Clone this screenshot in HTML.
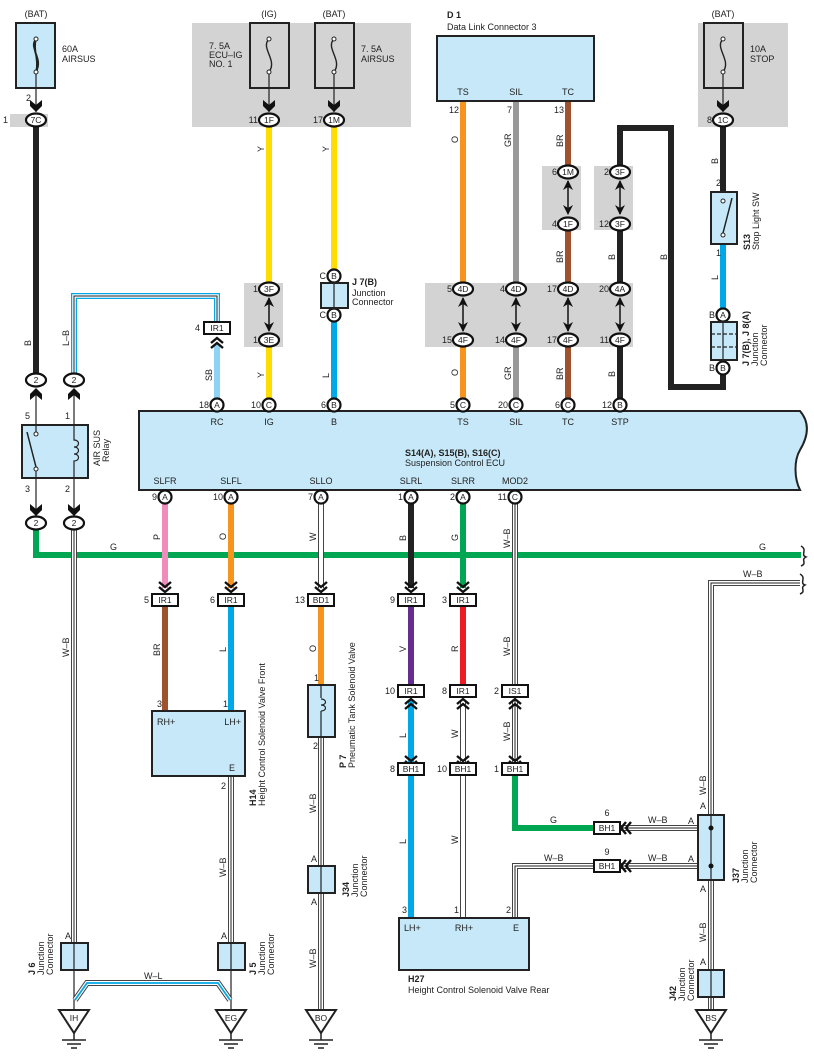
<!DOCTYPE html>
<html><head><meta charset="utf-8"><style>
html,body{margin:0;padding:0;background:#fff;}
svg{display:block}
.t{font-family:"Liberation Sans",sans-serif;font-size:9px;fill:#222}
.s{font-size:8.5px}
.c{text-anchor:middle}
.r{text-anchor:end}
.b{font-weight:bold}
</style></head><body>
<svg width="814" height="1063" viewBox="0 0 814 1063" xmlns="http://www.w3.org/2000/svg">
<defs>
<g id="cd"><polyline points="-6,-8 0,-3 6,-8" fill="none" stroke="#111" stroke-width="2.4"/><polyline points="-6,-3 0,2 6,-3" fill="none" stroke="#111" stroke-width="2.4"/></g>
<g id="cu"><polyline points="-6,8 0,3 6,8" fill="none" stroke="#111" stroke-width="2.4"/><polyline points="-6,3 0,-2 6,3" fill="none" stroke="#111" stroke-width="2.4"/></g>
<g id="cl"><polyline points="8,-6 3,0 8,6" fill="none" stroke="#111" stroke-width="2.4"/><polyline points="3,-6 -2,0 3,6" fill="none" stroke="#111" stroke-width="2.4"/></g>
<path id="fa" d="M-6,-8 L0,-3 L6,-8 L6,-2 L0,4 L-6,-2 Z" fill="#111"/>
<path id="fu" d="M-6,8 L0,3 L6,8 L6,2 L0,-4 L-6,2 Z" fill="#111"/>
<g id="da"><line x1="0" y1="2" x2="0" y2="35" stroke="#111" stroke-width="1.5"/><path d="M-5,11 L0,1 L5,11 L0,8Z" fill="#111"/><path d="M-5,26 L0,36 L5,26 L0,29Z" fill="#111"/></g>
</defs>

<!-- grey backgrounds -->
<rect x="10" y="114" width="38" height="13" fill="#d3d3d3"/>
<rect x="192" y="23" width="219" height="104" fill="#d3d3d3"/>
<rect x="698" y="23" width="90" height="104" fill="#d3d3d3"/>
<rect x="244" y="283" width="39" height="64" fill="#d3d3d3"/>
<rect x="425" y="283" width="208" height="64" fill="#d3d3d3"/>
<rect x="542" y="166" width="39" height="64" fill="#d3d3d3"/>
<rect x="594" y="166" width="39" height="64" fill="#d3d3d3"/>

<!-- fuses -->
<g fill="#c6e8f8" stroke="#222" stroke-width="2">
<rect x="16" y="23" width="39" height="65"/>
</g>
<g fill="#d3d3d3" stroke="#222" stroke-width="2">
<rect x="250" y="23" width="39" height="65"/>
<rect x="315" y="23" width="39" height="65"/>
<rect x="704" y="23" width="39" height="65"/>
</g>
<g fill="none" stroke="#222" stroke-width="1.4">
<path d="M36,39 C28,48 44,58 36,72 M36,39 C30,50 42,60 36,72 M36,39 C33,50 39,60 36,72" stroke-width="1.6"/>
<path d="M269,39 C260,48 278,60 269,72"/>
<path d="M334,39 C325,48 343,60 334,72"/>
<path d="M723,39 C714,48 732,60 723,72"/>
</g>
<g fill="#fff" stroke="#222" stroke-width="1">
<circle cx="36" cy="39" r="2"/><circle cx="36" cy="72" r="2"/>
<circle cx="269" cy="39" r="2"/><circle cx="269" cy="72" r="2"/>
<circle cx="334" cy="39" r="2"/><circle cx="334" cy="72" r="2"/>
<circle cx="723" cy="39" r="2"/><circle cx="723" cy="72" r="2"/>
</g>
<g stroke="#222" stroke-width="1.2">
<line x1="36" y1="74" x2="36" y2="112"/><line x1="269" y1="74" x2="269" y2="112"/>
<line x1="334" y1="74" x2="334" y2="112"/><line x1="723" y1="74" x2="723" y2="112"/>
</g>
<use href="#fa" x="36" y="108"/><use href="#fa" x="269" y="108"/><use href="#fa" x="334" y="108"/><use href="#fa" x="723" y="108"/>

<text class="t c" x="36" y="17">(BAT)</text>
<text class="t" x="62" y="52">60A</text><text class="t" x="62" y="62">AIRSUS</text>
<text class="t c" x="269" y="17">(IG)</text>
<text class="t c" x="334" y="17">(BAT)</text>
<text class="t" x="209" y="49">7. 5A</text><text class="t" x="209" y="58">ECU–IG</text><text class="t" x="209" y="67">NO. 1</text>
<text class="t" x="361" y="52">7. 5A</text><text class="t" x="361" y="62">AIRSUS</text>
<text class="t c" x="723" y="17">(BAT)</text>
<text class="t" x="750" y="52">10A</text><text class="t" x="750" y="62">STOP</text>
<text class="t" x="26" y="101">2</text>

<!-- Data link -->
<text class="t b" x="447" y="18">D 1</text>
<text class="t" x="447" y="30">Data Link Connector 3</text>
<rect x="437" y="36" width="157" height="65" fill="#c6e8f8" stroke="#222" stroke-width="2"/>
<text class="t c" x="463" y="95">TS</text><text class="t c" x="516" y="95">SIL</text><text class="t c" x="568" y="95">TC</text>
<text class="t r" x="459" y="113">12</text><text class="t r" x="512" y="113">7</text><text class="t r" x="564" y="113">13</text>

<!-- ECU -->
<path d="M139,411 L800,411 C812,425 806,440 800,450 C794,460 794,478 800,490 L139,490 Z" fill="#c6e8f8" stroke="#222" stroke-width="2"/>
<text class="t b" x="405" y="456">S14(A), S15(B), S16(C)</text>
<text class="t" x="405" y="466">Suspension Control ECU</text>
<text class="t c" x="217" y="425">RC</text><text class="t c" x="269" y="425">IG</text><text class="t c" x="334" y="425">B</text>
<text class="t c" x="463" y="425">TS</text><text class="t c" x="516" y="425">SIL</text><text class="t c" x="568" y="425">TC</text><text class="t c" x="620" y="425">STP</text>
<text class="t c" x="165" y="484">SLFR</text><text class="t c" x="231" y="484">SLFL</text><text class="t c" x="321" y="484">SLLO</text>
<text class="t c" x="411" y="484">SLRL</text><text class="t c" x="463" y="484">SLRR</text><text class="t c" x="515" y="484">MOD2</text>

<!-- Relay -->
<rect x="22" y="425" width="66" height="53" fill="#c6e8f8" stroke="#222" stroke-width="2"/>
<line x1="36" y1="392" x2="36" y2="434" stroke="#222" stroke-width="1.2"/>
<line x1="36" y1="469" x2="36" y2="515" stroke="#222" stroke-width="1.2"/>
<circle cx="36" cy="434" r="2" fill="#fff" stroke="#222"/><circle cx="36" cy="469" r="2" fill="#fff" stroke="#222"/>
<line x1="27" y1="432" x2="36" y2="467" stroke="#222" stroke-width="1.5"/>
<path d="M74,392 L74,440 C80,440 80,447 74,447 C80,447 80,454 74,454 C80,454 80,461 74,461 L74,515" fill="none" stroke="#222" stroke-width="1.2"/>
<text class="t" x="25" y="419">5</text><text class="t" x="65" y="419">1</text><text class="t" x="25" y="492">3</text><text class="t" x="65" y="492">2</text>
<text class="t" transform="translate(100,466) rotate(-90)">AIR SUS</text>
<text class="t" transform="translate(109,462) rotate(-90)">Relay</text>
<use href="#fa" x="36" y="512"/><use href="#fa" x="74" y="512"/>

<!-- Green G bus (under) -->
<path d="M36,530 L36,555 L801,555" fill="none" stroke="#00a651" stroke-width="6"/>
<path d="M801,546 C808,550 800,555 806,557 C800,560 808,563 801,566" fill="none" stroke="#222" stroke-width="1.5"/>
<text class="t" x="110" y="550">G</text><text class="t" x="759" y="550">G</text>

<!-- colored wires -->
<g fill="none" stroke-linejoin="miter">
<line x1="36" y1="127" x2="36" y2="373" stroke="#222" stroke-width="6"/>
<path d="M74,373 L74,296 L217,296 L217,322" stroke="#00a8e8" stroke-width="6"/>
<path d="M74,373 L74,296 L217,296 L217,322" stroke="#fff" stroke-width="3.5"/>
<path d="M74,373 L74,296 L217,296 L217,322" stroke="#222" stroke-width="1"/>
<line x1="217" y1="345" x2="217" y2="398" stroke="#8fd3f4" stroke-width="6"/>
<line x1="269" y1="127" x2="269" y2="283" stroke="#ffdd00" stroke-width="6"/>
<line x1="269" y1="347" x2="269" y2="398" stroke="#ffdd00" stroke-width="6"/>
<line x1="334" y1="127" x2="334" y2="270" stroke="#ffdd00" stroke-width="6"/>
<line x1="334" y1="322" x2="334" y2="398" stroke="#00a8e8" stroke-width="6"/>
<line x1="463" y1="102" x2="463" y2="283" stroke="#f7941d" stroke-width="6"/>
<line x1="463" y1="347" x2="463" y2="398" stroke="#f7941d" stroke-width="6"/>
<line x1="516" y1="102" x2="516" y2="283" stroke="#999" stroke-width="6"/>
<line x1="516" y1="347" x2="516" y2="398" stroke="#999" stroke-width="6"/>
<line x1="568" y1="102" x2="568" y2="166" stroke="#a0522d" stroke-width="6"/>
<line x1="568" y1="230" x2="568" y2="283" stroke="#a0522d" stroke-width="6"/>
<line x1="568" y1="347" x2="568" y2="398" stroke="#a0522d" stroke-width="6"/>
<path d="M620,166 L620,128 L671,128 L671,387 L723,387 L723,375" stroke="#222" stroke-width="6"/>
<line x1="620" y1="230" x2="620" y2="283" stroke="#222" stroke-width="6"/>
<line x1="620" y1="347" x2="620" y2="398" stroke="#222" stroke-width="6"/>
<line x1="723" y1="127" x2="723" y2="192" stroke="#222" stroke-width="6"/>
<line x1="723" y1="244" x2="723" y2="308" stroke="#00a8e8" stroke-width="6"/>
<!-- lower -->
<line x1="165" y1="504" x2="165" y2="588" stroke="#f08cbb" stroke-width="6"/>
<line x1="231" y1="504" x2="231" y2="588" stroke="#f7941d" stroke-width="6"/>
<line x1="411" y1="504" x2="411" y2="588" stroke="#222" stroke-width="6"/>
<line x1="463" y1="504" x2="463" y2="588" stroke="#00a651" stroke-width="6"/>
<line x1="165" y1="607" x2="165" y2="711" stroke="#a0522d" stroke-width="6"/>
<line x1="231" y1="607" x2="231" y2="711" stroke="#00a8e8" stroke-width="6"/>
<line x1="321" y1="607" x2="321" y2="685" stroke="#f7941d" stroke-width="6"/>
<line x1="411" y1="607" x2="411" y2="685" stroke="#662d91" stroke-width="6"/>
<line x1="463" y1="607" x2="463" y2="685" stroke="#ed1c24" stroke-width="6"/>
<line x1="411" y1="700" x2="411" y2="762" stroke="#00a8e8" stroke-width="6"/>
<line x1="411" y1="776" x2="411" y2="918" stroke="#00a8e8" stroke-width="6"/>
<path d="M515,776 L515,828 L594,828" stroke="#00a651" stroke-width="6"/>
</g>
<!-- white / W-B wires -->
<g fill="none">
<g stroke="#444" stroke-width="6">
<path d="M74,530 L74,943"/><path d="M321,504 L321,588"/><path d="M515,504 L515,685"/>
<path d="M463,700 L463,762"/><path d="M515,700 L515,762"/><path d="M463,776 L463,918"/>
<path d="M231,776 L231,943"/><path d="M321,737 L321,1010"/>
<path d="M800,583 L711,583 L711,1010"/><path d="M621,828 L698,828"/><path d="M621,866 L698,866"/>
<path d="M515,918 L515,866 L594,866"/>
</g>
<g stroke="#fff" stroke-width="4">
<path d="M74,530 L74,943"/><path d="M321,504 L321,588"/><path d="M515,504 L515,685"/>
<path d="M463,700 L463,762"/><path d="M515,700 L515,762"/><path d="M463,776 L463,918"/>
<path d="M231,776 L231,943"/><path d="M321,737 L321,1010"/>
<path d="M800,583 L711,583 L711,1010"/><path d="M621,828 L698,828"/><path d="M621,866 L698,866"/>
<path d="M515,918 L515,866 L594,866"/>
</g>
<g stroke="#222" stroke-width="1">
<path d="M74,530 L74,943"/><path d="M515,504 L515,685"/>
<path d="M515,700 L515,762"/>
<path d="M231,776 L231,943"/><path d="M321,737 L321,1010"/>
<path d="M800,583 L711,583 L711,1010"/><path d="M621,828 L698,828"/><path d="M621,866 L698,866"/>
<path d="M515,918 L515,866 L594,866"/>
</g>
<path d="M800,574 C807,578 799,583 805,585 C799,588 807,591 800,594" stroke="#222" stroke-width="1.5"/>
<line x1="74" y1="970" x2="74" y2="1012" stroke="#222" stroke-width="1.2"/>
<line x1="231" y1="970" x2="231" y2="1012" stroke="#222" stroke-width="1.2"/>
<path d="M75,1000 L87,983 L218,983 L230,1000" stroke="#444" stroke-width="6"/>
<path d="M75,1000 L87,983 L218,983 L230,1000" stroke="#fff" stroke-width="4"/>
<path d="M75,1000 L87,983 L218,983 L230,1000" stroke="#00a8e8" stroke-width="1.8"/>
</g>

<!-- wire labels -->
<g class="t">
<text transform="translate(31,346) rotate(-90)" class="t">B</text>
<text transform="translate(69,346) rotate(-90)" class="t">L–B</text>
<text transform="translate(212,381) rotate(-90)" class="t">SB</text>
<text transform="translate(264,152) rotate(-90)" class="t">Y</text>
<text transform="translate(264,378) rotate(-90)" class="t">Y</text>
<text transform="translate(329,152) rotate(-90)" class="t">Y</text>
<text transform="translate(329,378) rotate(-90)" class="t">L</text>
<text transform="translate(458,143) rotate(-90)" class="t">O</text>
<text transform="translate(458,376) rotate(-90)" class="t">O</text>
<text transform="translate(511,147) rotate(-90)" class="t">GR</text>
<text transform="translate(511,380) rotate(-90)" class="t">GR</text>
<text transform="translate(563,147) rotate(-90)" class="t">BR</text>
<text transform="translate(563,263) rotate(-90)" class="t">BR</text>
<text transform="translate(563,380) rotate(-90)" class="t">BR</text>
<text transform="translate(615,260) rotate(-90)" class="t">B</text>
<text transform="translate(615,377) rotate(-90)" class="t">B</text>
<text transform="translate(667,260) rotate(-90)" class="t">B</text>
<text transform="translate(718,164) rotate(-90)" class="t">B</text>
<text transform="translate(718,280) rotate(-90)" class="t">L</text>
<text transform="translate(69,657) rotate(-90)" class="t">W–B</text>
<text transform="translate(160,540) rotate(-90)" class="t">P</text>
<text transform="translate(226,540) rotate(-90)" class="t">O</text>
<text transform="translate(316,541) rotate(-90)" class="t">W</text>
<text transform="translate(406,541) rotate(-90)" class="t">B</text>
<text transform="translate(458,541) rotate(-90)" class="t">G</text>
<text transform="translate(510,548) rotate(-90)" class="t">W–B</text>
<text transform="translate(160,656) rotate(-90)" class="t">BR</text>
<text transform="translate(226,652) rotate(-90)" class="t">L</text>
<text transform="translate(316,652) rotate(-90)" class="t">O</text>
<text transform="translate(406,652) rotate(-90)" class="t">V</text>
<text transform="translate(458,652) rotate(-90)" class="t">R</text>
<text transform="translate(510,656) rotate(-90)" class="t">W–B</text>
<text transform="translate(406,738) rotate(-90)" class="t">L</text>
<text transform="translate(458,738) rotate(-90)" class="t">W</text>
<text transform="translate(510,741) rotate(-90)" class="t">W–B</text>
<text transform="translate(406,844) rotate(-90)" class="t">L</text>
<text transform="translate(458,844) rotate(-90)" class="t">W</text>
<text transform="translate(226,877) rotate(-90)" class="t">W–B</text>
<text transform="translate(316,813) rotate(-90)" class="t">W–B</text>
<text transform="translate(316,968) rotate(-90)" class="t">W–B</text>
<text transform="translate(706,795) rotate(-90)" class="t">W–B</text>
<text transform="translate(706,942) rotate(-90)" class="t">W–B</text>
<text x="743" y="577">W–B</text>
<text x="550" y="823">G</text>
<text x="648" y="823">W–B</text>
<text x="648" y="861">W–B</text>
<text x="544" y="861">W–B</text>
<text x="144" y="979">W–L</text>
</g>

<!-- double arrows -->
<use href="#da" x="269" y="296"/><use href="#da" x="463" y="296"/><use href="#da" x="516" y="296"/>
<use href="#da" x="568" y="296"/><use href="#da" x="620" y="296"/>
<use href="#da" x="568" y="179"/><use href="#da" x="620" y="179"/>
<use href="#fu" x="36" y="392"/><use href="#fu" x="74" y="392"/>

<!-- ovals -->
<g fill="#fff" stroke="#111" stroke-width="2.2">
<ellipse cx="36" cy="120" rx="10" ry="6.5"/>
<ellipse cx="269" cy="120" rx="10" ry="6.5"/><ellipse cx="334" cy="120" rx="10" ry="6.5"/>
<ellipse cx="723" cy="120" rx="10" ry="6.5"/>
<ellipse cx="269" cy="289" rx="10" ry="6.5"/><ellipse cx="269" cy="340" rx="10" ry="6.5"/>
<ellipse cx="463" cy="289" rx="10" ry="6.5"/><ellipse cx="463" cy="340" rx="10" ry="6.5"/>
<ellipse cx="516" cy="289" rx="10" ry="6.5"/><ellipse cx="516" cy="340" rx="10" ry="6.5"/>
<ellipse cx="568" cy="289" rx="10" ry="6.5"/><ellipse cx="568" cy="340" rx="10" ry="6.5"/>
<ellipse cx="620" cy="289" rx="10" ry="6.5"/><ellipse cx="620" cy="340" rx="10" ry="6.5"/>
<ellipse cx="568" cy="172" rx="10" ry="6.5"/><ellipse cx="568" cy="224" rx="10" ry="6.5"/>
<ellipse cx="620" cy="172" rx="10" ry="6.5"/><ellipse cx="620" cy="224" rx="10" ry="6.5"/>
<ellipse cx="36" cy="380" rx="10" ry="6.5"/><ellipse cx="74" cy="380" rx="10" ry="6.5"/>
<ellipse cx="36" cy="523" rx="10" ry="6.5"/><ellipse cx="74" cy="523" rx="10" ry="6.5"/>
<circle cx="217" cy="405" r="6.5"/><circle cx="269" cy="405" r="6.5"/><circle cx="334" cy="405" r="6.5"/>
<circle cx="463" cy="405" r="6.5"/><circle cx="516" cy="405" r="6.5"/><circle cx="568" cy="405" r="6.5"/><circle cx="620" cy="405" r="6.5"/>
<circle cx="334" cy="276" r="6.5"/><circle cx="334" cy="315" r="6.5"/>
<circle cx="723" cy="315" r="6.5"/><circle cx="723" cy="368" r="6.5"/>
<circle cx="165" cy="497" r="6.5"/><circle cx="231" cy="497" r="6.5"/><circle cx="321" cy="497" r="6.5"/>
<circle cx="411" cy="497" r="6.5"/><circle cx="463" cy="497" r="6.5"/><circle cx="515" cy="497" r="6.5"/>
</g>
<g>
<text class="t s c" x="36" y="123">7C</text><text class="t s c" x="269" y="123">1F</text><text class="t s c" x="334" y="123">1M</text><text class="t s c" x="723" y="123">1C</text>
<text class="t s c" x="269" y="292">3F</text><text class="t s c" x="269" y="343">3E</text>
<text class="t s c" x="463" y="292">4D</text><text class="t s c" x="463" y="343">4F</text>
<text class="t s c" x="516" y="292">4D</text><text class="t s c" x="516" y="343">4F</text>
<text class="t s c" x="568" y="292">4D</text><text class="t s c" x="568" y="343">4F</text>
<text class="t s c" x="620" y="292">4A</text><text class="t s c" x="620" y="343">4F</text>
<text class="t s c" x="568" y="175">1M</text><text class="t s c" x="568" y="227">1F</text>
<text class="t s c" x="620" y="175">3F</text><text class="t s c" x="620" y="227">3F</text>
<text class="t s c" x="36" y="383">2</text><text class="t s c" x="74" y="383">2</text>
<text class="t s c" x="36" y="526">2</text><text class="t s c" x="74" y="526">2</text>
<text class="t s c" x="217" y="408">A</text><text class="t s c" x="269" y="408">C</text><text class="t s c" x="334" y="408">B</text>
<text class="t s c" x="463" y="408">C</text><text class="t s c" x="516" y="408">C</text><text class="t s c" x="568" y="408">C</text><text class="t s c" x="620" y="408">B</text>
<text class="t s c" x="334" y="279">B</text><text class="t s c" x="334" y="318">B</text>
<text class="t s c" x="723" y="318">A</text><text class="t s c" x="723" y="371">B</text>
<text class="t s c" x="165" y="500">A</text><text class="t s c" x="231" y="500">A</text><text class="t s c" x="321" y="500">A</text>
<text class="t s c" x="411" y="500">A</text><text class="t s c" x="463" y="500">A</text><text class="t s c" x="515" y="500">C</text>
</g>
<!-- pin numbers -->
<g>
<text class="t r" x="8" y="123">1</text>
<text class="t r" x="258" y="123">11</text><text class="t r" x="323" y="123">17</text><text class="t r" x="712" y="123">8</text>
<text class="t r" x="258" y="292">1</text><text class="t r" x="258" y="343">1</text>
<text class="t r" x="452" y="292">5</text><text class="t r" x="452" y="343">15</text>
<text class="t r" x="505" y="292">4</text><text class="t r" x="505" y="343">14</text>
<text class="t r" x="557" y="292">17</text><text class="t r" x="557" y="343">17</text>
<text class="t r" x="609" y="292">20</text><text class="t r" x="609" y="343">11</text>
<text class="t r" x="557" y="175">6</text><text class="t r" x="557" y="227">4</text>
<text class="t r" x="609" y="175">2</text><text class="t r" x="609" y="227">12</text>
<text class="t r" x="209" y="408">18</text><text class="t r" x="261" y="408">10</text><text class="t r" x="326" y="408">6</text>
<text class="t r" x="455" y="408">5</text><text class="t r" x="508" y="408">20</text><text class="t r" x="560" y="408">6</text><text class="t r" x="612" y="408">12</text>
<text class="t r" x="326" y="279">C</text><text class="t r" x="326" y="318">C</text>
<text class="t r" x="715" y="318">B</text><text class="t r" x="715" y="371">B</text>
<text class="t r" x="157" y="500">9</text><text class="t r" x="223" y="500">10</text><text class="t r" x="313" y="500">7</text>
<text class="t r" x="403" y="500">1</text><text class="t r" x="455" y="500">2</text><text class="t r" x="507" y="500">11</text>
<text class="t r" x="721" y="186">2</text><text class="t r" x="721" y="256">1</text>
</g>

<!-- J7(B) top -->
<rect x="321" y="283" width="27" height="25" fill="#c6e8f8" stroke="#222" stroke-width="2"/>
<line x1="334" y1="283" x2="334" y2="308" stroke="#222" stroke-width="1.2"/>
<text class="t b" x="352" y="285">J 7(B)</text><text class="t" x="352" y="296">Junction</text><text class="t" x="352" y="305">Connector</text>

<!-- stop light SW -->
<rect x="711" y="192" width="26" height="52" fill="#c6e8f8" stroke="#222" stroke-width="2"/>
<circle cx="723" cy="201" r="2" fill="#fff" stroke="#222"/><circle cx="723" cy="235" r="2" fill="#fff" stroke="#222"/>
<line x1="723" y1="233" x2="732" y2="198" stroke="#222" stroke-width="1.5"/>
<text class="t b" transform="translate(750,250) rotate(-90)">S13</text>
<text class="t" transform="translate(759,250) rotate(-90)">Stop Light SW</text>
<rect x="711" y="322" width="26" height="38" fill="#c6e8f8" stroke="#222" stroke-width="2"/>
<g stroke="#222" stroke-width="1.2"><line x1="723" y1="322" x2="723" y2="360"/><line x1="711" y1="334" x2="737" y2="334" stroke-dasharray="4,2"/><line x1="711" y1="347" x2="737" y2="347" stroke-dasharray="4,2"/></g>
<text class="t b" transform="translate(749,366) rotate(-90)">J 7(B), J 8(A)</text>
<text class="t" transform="translate(758,366) rotate(-90)">Junction</text>
<text class="t" transform="translate(767,366) rotate(-90)">Connector</text>

<!-- IR1 top -->
<use href="#cu" x="217" y="340"/>
<rect x="204" y="322" width="26" height="12" fill="#fff" stroke="#111" stroke-width="2"/>
<text class="t s c" x="217" y="331">IR1</text><text class="t r" x="200" y="331">4</text>

<!-- lower connectors -->
<use href="#cd" x="165" y="590"/><use href="#cd" x="231" y="590"/><use href="#cd" x="321" y="590"/>
<use href="#cd" x="411" y="590"/><use href="#cd" x="463" y="590"/>
<use href="#cu" x="411" y="701"/><use href="#cu" x="463" y="701"/><use href="#cu" x="515" y="701"/>
<use href="#cd" x="411" y="764"/><use href="#cd" x="463" y="764"/><use href="#cd" x="515" y="764"/>
<use href="#cl" x="623" y="828"/><use href="#cl" x="623" y="866"/>
<g fill="#fff" stroke="#111" stroke-width="2">
<rect x="152" y="594" width="26" height="12"/><rect x="218" y="594" width="26" height="12"/><rect x="308" y="594" width="26" height="12"/>
<rect x="398" y="594" width="26" height="12"/><rect x="450" y="594" width="26" height="12"/>
<rect x="398" y="685" width="26" height="12"/><rect x="450" y="685" width="26" height="12"/><rect x="502" y="685" width="26" height="12"/>
<rect x="398" y="763" width="26" height="12"/><rect x="450" y="763" width="26" height="12"/><rect x="502" y="763" width="26" height="12"/>
<rect x="594" y="822" width="26" height="12"/><rect x="594" y="860" width="26" height="12"/>
</g>
<g>
<text class="t s c" x="165" y="603">IR1</text><text class="t s c" x="231" y="603">IR1</text><text class="t s c" x="321" y="603">BD1</text>
<text class="t s c" x="411" y="603">IR1</text><text class="t s c" x="463" y="603">IR1</text>
<text class="t s c" x="411" y="694">IR1</text><text class="t s c" x="463" y="694">IR1</text><text class="t s c" x="515" y="694">IS1</text>
<text class="t s c" x="411" y="772">BH1</text><text class="t s c" x="463" y="772">BH1</text><text class="t s c" x="515" y="772">BH1</text>
<text class="t s c" x="607" y="831">BH1</text><text class="t s c" x="607" y="869">BH1</text>
<text class="t r" x="149" y="603">5</text><text class="t r" x="215" y="603">6</text><text class="t r" x="305" y="603">13</text>
<text class="t r" x="395" y="603">9</text><text class="t r" x="447" y="603">3</text>
<text class="t r" x="395" y="694">10</text><text class="t r" x="447" y="694">8</text><text class="t r" x="499" y="694">2</text>
<text class="t r" x="395" y="772">8</text><text class="t r" x="447" y="772">10</text><text class="t r" x="499" y="772">1</text>
<text class="t c" x="607" y="816">6</text><text class="t c" x="607" y="855">9</text>
</g>

<!-- H14 -->
<rect x="152" y="711" width="93" height="65" fill="#c6e8f8" stroke="#222" stroke-width="2"/>
<text class="t" x="157" y="725">RH+</text><text class="t r" x="241" y="725">LH+</text><text class="t r" x="235" y="771">E</text>
<text class="t" x="157" y="707">3</text><text class="t" x="223" y="707">1</text><text class="t" x="221" y="789">2</text>
<text class="t b" transform="translate(256,806) rotate(-90)">H14</text>
<text class="t" transform="translate(265,806) rotate(-90)">Height Control Solenoid Valve Front</text>

<!-- P7 -->
<rect x="308" y="685" width="27" height="52" fill="#c6e8f8" stroke="#222" stroke-width="2"/>
<path d="M321,685 L321,698 M321,711 L321,737" fill="none" stroke="#222" stroke-width="1.2"/>
<path d="M321,699 C327,699 327,705 321,705 C327,705 327,711 321,711" fill="none" stroke="#222" stroke-width="1.2"/>
<text class="t" x="314" y="681">1</text><text class="t" x="313" y="749">2</text>
<text class="t b" transform="translate(346,768) rotate(-90)">P 7</text>
<text class="t" transform="translate(355,768) rotate(-90)">Pneumatic Tank Solenoid Valve</text>

<!-- J34 -->
<rect x="308" y="866" width="27" height="27" fill="#c6e8f8" stroke="#222" stroke-width="2"/>
<line x1="321" y1="866" x2="321" y2="893" stroke="#222" stroke-width="1.2"/>
<text class="t" x="311" y="862">A</text><text class="t" x="311" y="905">A</text>
<text class="t b" transform="translate(349,897) rotate(-90)">J34</text>
<text class="t" transform="translate(358,897) rotate(-90)">Junction</text>
<text class="t" transform="translate(367,897) rotate(-90)">Connector</text>

<!-- J6, J5 -->
<rect x="61" y="943" width="27" height="27" fill="#c6e8f8" stroke="#222" stroke-width="2"/>
<line x1="74" y1="943" x2="74" y2="970" stroke="#222" stroke-width="1.2"/>
<rect x="218" y="943" width="27" height="27" fill="#c6e8f8" stroke="#222" stroke-width="2"/>
<line x1="231" y1="943" x2="231" y2="970" stroke="#222" stroke-width="1.2"/>
<text class="t" x="65" y="939">A</text><text class="t" x="221" y="939">A</text>
<text class="t b" transform="translate(35,975) rotate(-90)">J 6</text>
<text class="t" transform="translate(44,975) rotate(-90)">Junction</text>
<text class="t" transform="translate(53,975) rotate(-90)">Connector</text>
<text class="t b" transform="translate(256,975) rotate(-90)">J 5</text>
<text class="t" transform="translate(265,975) rotate(-90)">Junction</text>
<text class="t" transform="translate(274,975) rotate(-90)">Connector</text>

<!-- H27 -->
<rect x="399" y="918" width="130" height="52" fill="#c6e8f8" stroke="#222" stroke-width="2"/>
<text class="t" x="404" y="931">LH+</text><text class="t c" x="464" y="931">RH+</text><text class="t c" x="516" y="931">E</text>
<text class="t" x="402" y="913">3</text><text class="t" x="454" y="913">1</text><text class="t" x="506" y="913">2</text>
<text class="t b" x="408" y="982">H27</text>
<text class="t" x="408" y="993">Height Control Solenoid Valve Rear</text>

<!-- J37 -->
<rect x="698" y="815" width="26" height="65" fill="#c6e8f8" stroke="#222" stroke-width="2"/>
<line x1="711" y1="815" x2="711" y2="880" stroke="#222" stroke-width="1.2"/>
<circle cx="711" cy="828" r="2.5" fill="#111"/><circle cx="711" cy="866" r="2.5" fill="#111"/>
<text class="t" x="700" y="809">A</text><text class="t" x="700" y="892">A</text>
<text class="t" x="688" y="824">A</text><text class="t" x="688" y="862">A</text>
<text class="t b" transform="translate(739,883) rotate(-90)">J37</text>
<text class="t" transform="translate(748,883) rotate(-90)">Junction</text>
<text class="t" transform="translate(757,883) rotate(-90)">Connector</text>
<!-- J42 -->
<rect x="698" y="970" width="26" height="27" fill="#c6e8f8" stroke="#222" stroke-width="2"/>
<line x1="711" y1="970" x2="711" y2="1010" stroke="#222" stroke-width="1.2"/>
<text class="t" x="700" y="965">A</text>
<text class="t b" transform="translate(676,1001) rotate(-90)">J42</text>
<text class="t" transform="translate(685,1001) rotate(-90)">Junction</text>
<text class="t" transform="translate(694,1001) rotate(-90)">Connector</text>

<!-- grounds -->
<g fill="#fff" stroke="#222" stroke-width="2">
<path d="M59,1010 L89,1010 L74,1033 Z"/><path d="M216,1010 L246,1010 L231,1033 Z"/>
<path d="M306,1010 L336,1010 L321,1033 Z"/><path d="M696,1010 L726,1010 L711,1033 Z"/>
</g>
<g stroke="#222" stroke-width="1.5">
<path d="M74,1033 V1040 M62,1040 H86 M67,1044 H81 M71,1048 H77"/>
<path d="M231,1033 V1040 M219,1040 H243 M224,1044 H238 M228,1048 H234"/>
<path d="M321,1033 V1040 M309,1040 H333 M314,1044 H328 M318,1048 H324"/>
<path d="M711,1033 V1040 M699,1040 H723 M704,1044 H718 M708,1048 H714"/>
</g>
<text class="t s c" x="74" y="1021">IH</text><text class="t s c" x="231" y="1021">EG</text>
<text class="t s c" x="321" y="1021">BO</text><text class="t s c" x="711" y="1021">BS</text>
</svg>
</body></html>
